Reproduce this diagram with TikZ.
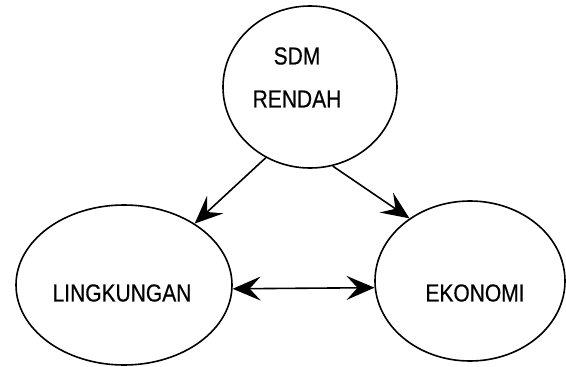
\documentclass[tikz,border=0pt]{standalone}
\usepackage{fontspec}
\setmainfont{Liberation Sans}
\newfontfamily\lblfont{Liberation Sans}[FakeBold=0.5]
\usetikzlibrary{shapes.geometric,arrows.meta}
\newcommand{\tallt}[1]{\scalebox{1}[1.17]{#1}}
\begin{document}
\begin{tikzpicture}[x=1pt,y=-1pt,
  oval/.style={draw,ellipse,line width=1.6pt,inner sep=0pt},
  lbl/.style={font=\lblfont\fontsize{21}{24}\selectfont,inner sep=0pt},
  tip/.tip={Stealth[length=28pt,width=24pt,inset=11pt]},
  arr/.style={line width=1.6pt,-tip},
  darr/.style={line width=1.6pt,tip-tip}]
\useasboundingbox (0,0) rectangle (566,367);
\node[oval,minimum width=174pt,minimum height=162pt] (top) at (310,87) {};
\node[oval,minimum width=216pt,minimum height=160pt] (left) at (124,285) {};
\node[oval,minimum width=190pt,minimum height=160pt] (right) at (470,281) {};
\node[lbl] (t1) at (297,56) {\tallt{SDM}};
\node[lbl] (t2) at (297,99) {\tallt{RENDAH}};
\node[lbl] (l1) at (122,293) {\tallt{LINGKUNGAN}};
\node[lbl] (r1) at (475,293) {\tallt{EKONOMI}};
\draw[arr] (top.238) -- (left.41);
\draw[arr] (top.286) -- (right.134);
\draw[darr] (left.-2) -- (right.184);
\end{tikzpicture}
\end{document}
